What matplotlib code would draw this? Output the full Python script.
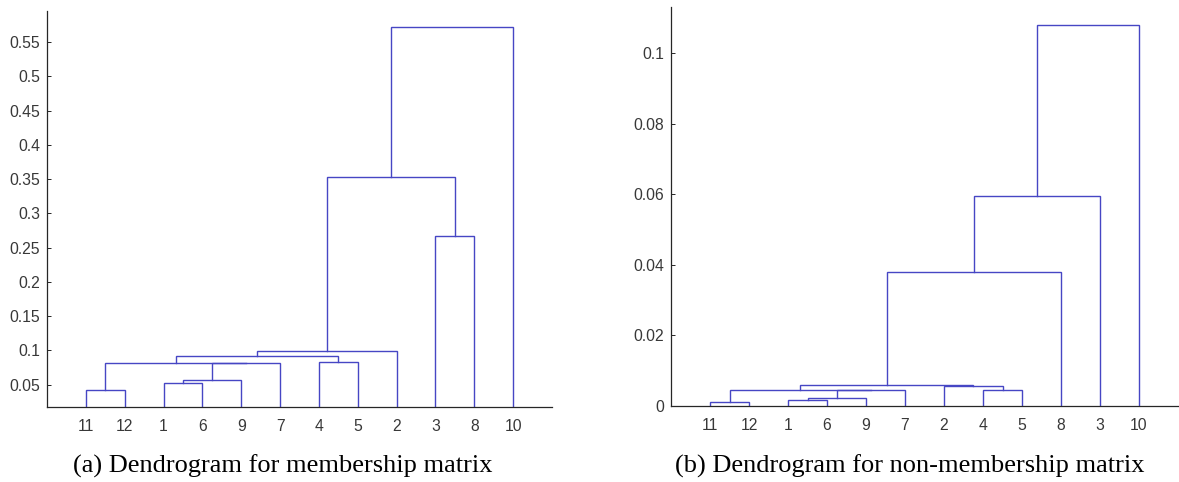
import matplotlib
matplotlib.use("Agg")
import matplotlib.pyplot as plt

# leaf order as shown on the x axis
labels_a = ['11', '12', '1', '6', '9', '7', '4', '5', '2', '3', '8', '10']
labels_b = ['11', '12', '1', '6', '9', '7', '2', '4', '5', '8', '3', '10']

# merges: node ids (0..11 are leaves by position, merge k makes node 12+k)
merges_a = [(0, 1), (2, 3), (13, 4), (14, 5), (12, 15), (6, 7),
            (16, 17), (18, 8), (9, 10), (19, 20), (21, 11)]
heights_a = [0.0423, 0.0527, 0.0569, 0.0810, 0.0818, 0.0838,
             0.0926, 0.0998, 0.2672, 0.3530, 0.5718]

merges_b = [(0, 1), (2, 3), (13, 4), (14, 5), (12, 15), (7, 8),
            (6, 17), (16, 18), (19, 9), (20, 10), (21, 11)]
heights_b = [0.0012, 0.0018, 0.0022, 0.0044, 0.0045, 0.0046,
             0.0057, 0.0060, 0.0380, 0.0595, 0.1079]

yticks_a = [0.05, 0.1, 0.15, 0.2, 0.25, 0.3, 0.35, 0.4, 0.45, 0.5, 0.55]
yticklabels_a = ['0.05', '0.1', '0.15', '0.2', '0.25', '0.3', '0.35', '0.4', '0.45', '0.5', '0.55']
yticks_b = [0, 0.02, 0.04, 0.06, 0.08, 0.1]
yticklabels_b = ['0', '0.02', '0.04', '0.06', '0.08', '0.1']

caption_a = '(a) Dendrogram for membership matrix'
caption_b = '(b) Dendrogram for non-membership matrix'

line_col = '#4646c4'
axis_col = '#262626'
text_col = '#383838'


def draw_dendro(ax, merges, heights, n):
    xs = [i + 1 for i in range(n)]
    ys = [0.0] * n
    for (a, b), h in zip(merges, heights):
        ax.plot([xs[a], xs[a], xs[b], xs[b]], [ys[a], h, h, ys[b]],
                color=line_col, lw=1.0, solid_joinstyle='miter')
        xs.append((xs[a] + xs[b]) / 2)
        ys.append(h)


def style_axes(ax, labels, yt, ytl, ylim):
    n = len(labels)
    ax.set_xlim(0, n + 1)
    ax.set_ylim(*ylim)
    ax.set_xticks(range(1, n + 1))
    ax.set_xticklabels(labels)
    ax.set_yticks(yt)
    ax.set_yticklabels(ytl)
    for s in ['top', 'right']:
        ax.spines[s].set_visible(False)
    for s in ['left', 'bottom']:
        ax.spines[s].set_color(axis_col)
        ax.spines[s].set_linewidth(0.9)
    ax.tick_params(axis='y', direction='in', length=3, width=0.7,
                   color=axis_col, labelcolor=text_col, labelsize=11.3, pad=5)
    ax.tick_params(axis='x', length=0, labelcolor=text_col, labelsize=11.3, pad=8.5)
    for lab in ax.get_xticklabels() + ax.get_yticklabels():
        lab.set_fontfamily('Liberation Sans')


fig = plt.figure(figsize=(11.79, 4.82), dpi=100)

ax1 = fig.add_axes([47 / 1179, 1 - 407.3 / 482, 505 / 1179, 396.6 / 482])
draw_dendro(ax1, merges_a, heights_a, len(labels_a))
style_axes(ax1, labels_a, yticks_a, yticklabels_a, (0.017, 0.596))

ax2 = fig.add_axes([671 / 1179, 1 - 406 / 482, 507 / 1179, 399.3 / 482])
draw_dendro(ax2, merges_b, heights_b, len(labels_b))
style_axes(ax2, labels_b, yticks_b, yticklabels_b, (0, 0.1132))

fig.text(283 / 1179, 9 / 482, caption_a, ha='center', va='baseline',
         fontsize=19, family='Liberation Serif', color='black')
fig.text(910 / 1179, 9 / 482, caption_b, ha='center', va='baseline',
         fontsize=19, family='Liberation Serif', color='black')

fig.savefig('out.png', dpi=100)
